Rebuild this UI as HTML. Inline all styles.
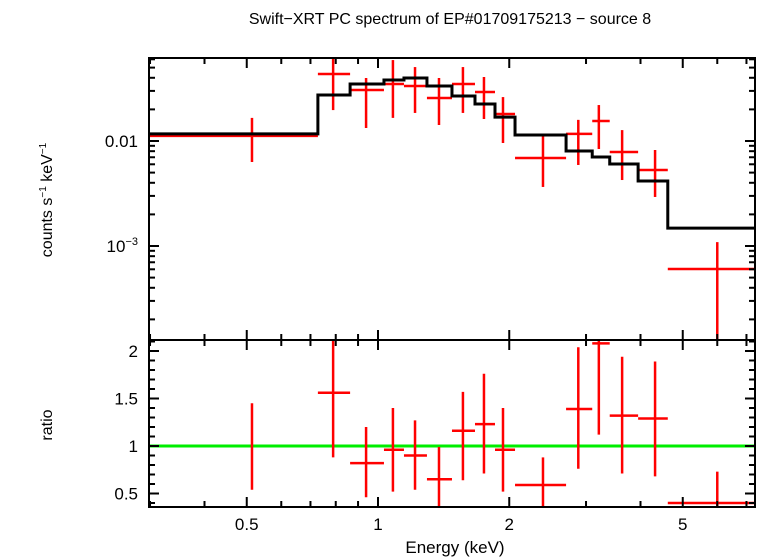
<!DOCTYPE html>
<html><head><meta charset="utf-8"><style>
body{margin:0;background:#fff}
svg{display:block;font-family:"Liberation Sans",sans-serif}
</style></head><body>
<svg id="c" width="758" height="558" viewBox="0 0 758 558" xmlns="http://www.w3.org/2000/svg">
<text x="450" y="24" font-size="16" text-anchor="middle">Swift−XRT PC spectrum of EP#01709175213 − source 8</text>
<text transform="translate(52,200) rotate(-90)" font-size="16" text-anchor="middle">counts s<tspan font-size="10" dy="-6">−1</tspan><tspan dy="6"> keV</tspan><tspan font-size="10" dy="-6">−1</tspan></text>
<text transform="translate(52,425) rotate(-90)" font-size="16" text-anchor="middle">ratio</text>
<text x="455" y="553" font-size="17" text-anchor="middle">Energy (keV)</text>
<g id="g"></g>
</svg>
<script>
const eCen=[0.514,0.789,0.939,1.082,1.216,1.38,1.566,1.75,1.935,2.39,2.88,3.21,3.63,4.32,6.0];
const eLo=[0.298,0.728,0.863,1.032,1.147,1.295,1.478,1.669,1.855,2.062,2.70,3.10,3.40,3.95,4.62];
const eHi=[0.728,0.863,1.032,1.147,1.295,1.478,1.669,1.855,2.062,2.70,3.10,3.40,3.95,4.62,7.3];
const flux=[0.0112,0.0435,0.0306,0.0349,0.0334,0.0257,0.0349,0.0293,0.0181,0.00689,0.0117,0.0155,0.00786,0.0053,0.000604];
const fluxHi=[0.0166,0.0617,0.0398,0.059,0.0506,0.0398,0.0506,0.0407,0.0262,0.0114,0.0159,0.022,0.0127,0.00821,0.00109];
const fluxLo=[0.00631,0.0197,0.0133,0.0166,0.0185,0.0142,0.0185,0.0162,0.00957,0.00365,0.00591,0.00839,0.00425,0.00293,0.00001];
const model=[0.0117,0.0274,0.0349,0.0381,0.0398,0.0334,0.0268,0.0225,0.0169,0.0114,0.00803,0.00704,0.00604,0.00416,0.00148];
const ratio=[1.0,1.56,0.82,0.96,0.9,0.65,1.16,1.23,0.96,0.59,1.39,2.08,1.32,1.29,0.4];
const ratioHi=[1.45,2.14,1.2,1.4,1.27,0.99,1.57,1.76,1.4,0.88,2.04,2.3,1.94,1.89,0.73];
const ratioLo=[0.54,0.88,0.46,0.52,0.54,0.3,0.64,0.71,0.52,0.3,0.76,1.12,0.71,0.68,0.3];
const xTicks=[0.5,1,2,5];

const L=149,R=755,T1=58,B1=340,T2=340,B2=507;
const X=e=>378+436*Math.log10(e);
const Y1=v=>Math.min(B1,Math.max(T1,141-105*(Math.log10(v)+2)));
const Y2=v=>Math.min(B2,Math.max(T2,446-95*(v-1)));
const g=document.getElementById('g');
const NS='http://www.w3.org/2000/svg';
function line(x1,y1,x2,y2,c,w,name){const l=document.createElementNS(NS,'line');
l.setAttribute('x1',x1);l.setAttribute('y1',y1);l.setAttribute('x2',x2);l.setAttribute('y2',y2);
l.setAttribute('stroke',c);l.setAttribute('stroke-width',w);


g.appendChild(l);return l;}
function text(x,y,s,anchor,name){const t=document.createElementNS(NS,'text');
t.setAttribute('x',x);t.setAttribute('y',y);t.setAttribute('font-size','17');t.setAttribute('text-anchor',anchor);t.textContent=s;


g.appendChild(t);return t;}

// data points top
for(let i=0;i<eCen.length;i++){
 const xc=X(eCen[i]);
 line(X(eLo[i]),Y1(flux[i]),Math.min(R,X(eHi[i])),Y1(flux[i]),'#f00',2.5,'data-xerr');
 line(xc,Y1(fluxHi[i]),xc,Y1(fluxLo[i]),'#f00',2.5,'data-yerr');
}
// model step line
let d='';
for(let i=0;i<model.length;i++){const y=Y1(model[i]);d+=(i?'L':'M')+X(eLo[i])+','+y+'L'+X(eHi[i])+','+y;}
const p=document.createElementNS(NS,'path');p.setAttribute('d',d);p.setAttribute('fill','none');p.setAttribute('stroke','#000');p.setAttribute('stroke-width','3');


g.appendChild(p);

// ratio
for(let i=0;i<eCen.length;i++){
 line(X(eLo[i]),Y2(ratio[i]),Math.min(R,X(eHi[i])),Y2(ratio[i]),'#f00',2.5,'ratio-xerr');
}
line(L,Y2(1),R,Y2(1),'#0e0',3,'unity-line');
for(let i=0;i<eCen.length;i++){
 const xc=X(eCen[i]);
 line(xc,Y2(ratioHi[i]),xc,Y2(ratioLo[i]),'#f00',2.5,'ratio-yerr');
}

// x ticks
const minorE=[0.3,0.4,0.5,0.6,0.7,0.8,0.9,1,2,3,4,5,6,7];
for(const e of minorE){const x=X(e);const major=xTicks.includes(e)||e===1;const len=major?10:6;
 for(const [t,b] of [[T1,B1],[T2,B2]]){line(x,t,x,t+len,'#000',2,'x-tick');line(x,b,x,b-len,'#000',2,'x-tick');}
}
xTicks.forEach(e=>text(X(e),530,String(e),'middle','x-tick-label'));

// y ticks top (log)
for(let dec=-4;dec<=-2;dec++){for(let m=1;m<10;m++){const v=m*Math.pow(10,dec);const y=Y1(v);
 if(y<=T1||y>=B1)continue;const len=m===1?10:6;
 line(L,y,L+len,y,'#000',2,'y-tick');line(R,y,R-len,y,'#000',2,'y-tick');}}
text(138,147,'0.01','end','y-tick-label');
const t3=text(138,252,'10','end','y-tick-label');
const ts=document.createElementNS(NS,'tspan');ts.setAttribute('font-size','11');ts.setAttribute('dy','-7');ts.textContent='−3';t3.appendChild(ts);

// ratio ticks
for(let k=4;k<=21;k++){const v=k/10;const y=Y2(v);if(y<=T2||y>=B2)continue;const len=(k%5===0)?10:6;
 line(L,y,L+len,y,'#000',2,'ratio-tick');line(R,y,R-len,y,'#000',2,'ratio-tick');}
[['2',2],['1.5',1.5],['1',1],['0.5',0.5]].forEach(([s,v])=>text(138,Y2(v)+6,s,'end','ratio-tick-label'));

// frames
const f1=document.createElementNS(NS,'rect');f1.setAttribute('x',L);f1.setAttribute('y',T1);f1.setAttribute('width',R-L);f1.setAttribute('height',B1-T1);
f1.setAttribute('fill','none');f1.setAttribute('stroke','#000');f1.setAttribute('stroke-width','2');


g.appendChild(f1);
const f2=document.createElementNS(NS,'rect');f2.setAttribute('x',L);f2.setAttribute('y',T2);f2.setAttribute('width',R-L);f2.setAttribute('height',B2-T2);
f2.setAttribute('fill','none');f2.setAttribute('stroke','#000');f2.setAttribute('stroke-width','2');


g.appendChild(f2);
</script>
</body></html>
